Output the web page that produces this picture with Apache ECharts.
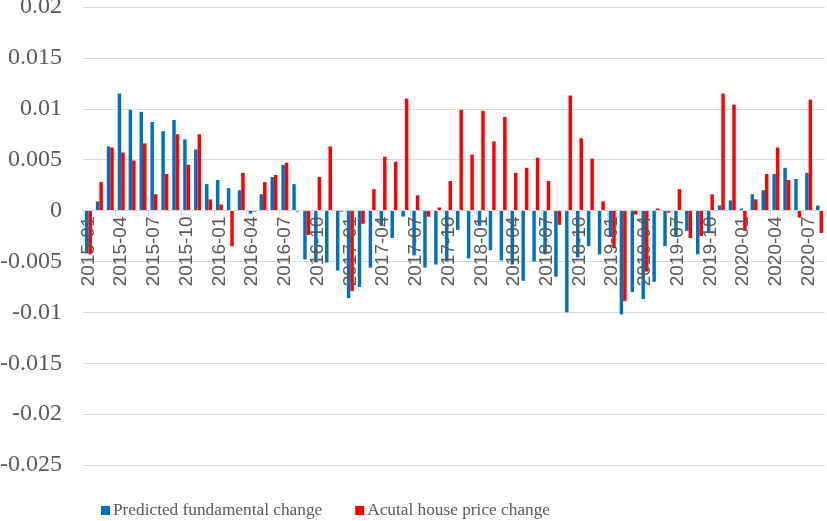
<!DOCTYPE html>
<html>
<head>
<meta charset="utf-8">
<script src="https://cdn.jsdelivr.net/npm/echarts@6/dist/echarts.min.js"></script>
<style>
html,body{margin:0;padding:0;background:#fff;}
#chart{width:827px;height:521px;}
</style>
</head>
<body>
<div id="chart"></div>
<script>
const months = [
 '2015-01','2015-02','2015-03','2015-04','2015-05','2015-06','2015-07','2015-08','2015-09','2015-10','2015-11','2015-12',
 '2016-01','2016-02','2016-03','2016-04','2016-05','2016-06','2016-07','2016-08','2016-09','2016-10','2016-11','2016-12',
 '2017-01','2017-02','2017-03','2017-04','2017-05','2017-06','2017-07','2017-08','2017-09','2017-10','2017-11','2017-12',
 '2018-01','2018-02','2018-03','2018-04','2018-05','2018-06','2018-07','2018-08','2018-09','2018-10','2018-11','2018-12',
 '2019-01','2019-02','2019-03','2019-04','2019-05','2019-06','2019-07','2019-08','2019-09','2019-10','2019-11','2019-12',
 '2020-01','2020-02','2020-03','2020-04','2020-05','2020-06','2020-07','2020-08'
];
const predicted = [
 -0.0042, 0.0009, 0.0063, 0.0115, 0.0099, 0.0097, 0.0087, 0.0078, 0.0089, 0.0070, 0.0060, 0.0026,
 0.0030, 0.0022, 0.0020, -0.0003, 0.0016, 0.0033, 0.0045, 0.0026, -0.0048, -0.0051, -0.0051, -0.0059,
 -0.0086, -0.0075, -0.0056, -0.0015, -0.0027, -0.0006, -0.0044, -0.0056, -0.0053, -0.0050, -0.0019, -0.0047,
 -0.0015, -0.0039, -0.0049, -0.0053, -0.0069, -0.0050, -0.0043, -0.0065, -0.0100, -0.0046, -0.0035, -0.0043,
 -0.0025, -0.0102, -0.0080, -0.0087, -0.0070, -0.0035, -0.0025, -0.0020, -0.0043, -0.0022, 0.0005, 0.0010,
 0.0002, 0.0016, 0.0020, 0.0036, 0.0042, 0.0031, 0.0037, 0.0005
];
const actual = [
 -0.0043, 0.0028, 0.0062, 0.0057, 0.0049, 0.0066, 0.0016, 0.0036, 0.0075, 0.0045, 0.0075, 0.0011,
 0.0006, -0.0035, 0.0037, -0.0001, 0.0028, 0.0035, 0.0047, -0.0001, -0.0024, 0.0033, 0.0063, -0.0001,
 -0.0079, -0.0013, 0.0021, 0.0053, 0.0048, 0.0110, 0.0015, -0.0006, 0.0003, 0.0029, 0.0099, 0.0055,
 0.0098, 0.0068, 0.0092, 0.0037, 0.0042, 0.0052, 0.0029, -0.0014, 0.0113, 0.0071, 0.0051, 0.0009,
 -0.0037, -0.0089, -0.0004, -0.0060, 0.0002, -0.0002, 0.0021, -0.0027, -0.0025, 0.0016, 0.0115, 0.0104,
 -0.0020, 0.0011, 0.0036, 0.0062, 0.0030, -0.0007, 0.0109, -0.0022
];
const seriesNames = ['Predicted fundamental change', 'Acutal house price change'];
const yMin = -0.025, yMax = 0.02, yStep = 0.005;

const chart = echarts.init(document.getElementById('chart'), null, {renderer: 'canvas'});
chart.setOption({
  animation: false,
  backgroundColor: '#ffffff',
  grid: {left: 83, right: 2, top: 7, bottom: 56, containLabel: false, outerBoundsMode: 'none'},
  legend: {
    data: seriesNames,
    left: 96, top: 497,
    icon: 'rect', itemWidth: 9, itemHeight: 9, itemGap: 33,
    textStyle: {fontFamily: 'Liberation Serif', fontSize: 17.3, color: '#595959', padding: [0,0,0,-2]}
  },
  xAxis: {
    type: 'category',
    data: months,
    z: 5,
    offset: 0,
    axisLine: {onZero: false, lineStyle: {color: '#D9D9D9', width: 1}},
    axisTick: {show: true, interval: 2, length: 5, alignWithLabel: false, lineStyle: {color: '#D9D9D9'}},
    axisLabel: {interval: 2, rotate: 90, margin: 6, fontFamily: 'Liberation Sans', fontSize: 19, color: '#595959'},
    splitLine: {show: false}
  },
  yAxis: {
    type: 'value',
    min: yMin, max: yMax, interval: yStep,
    axisLine: {show: false},
    axisTick: {show: false},
    axisLabel: {
      margin: 21, fontFamily: 'Liberation Serif', fontSize: 24, color: '#595959',
      formatter: v => String(+v.toFixed(3))
    },
    splitLine: {lineStyle: {color: '#D9D9D9', width: 1}}
  },
  series: [
    {name: seriesNames[0], type: 'bar', data: predicted, itemStyle: {color: '#0070C0'}, barGap: '0%', barCategoryGap: '36%'},
    {name: seriesNames[1], type: 'bar', data: actual, itemStyle: {color: '#FF0000'}, barGap: '0%', barCategoryGap: '36%'}
  ]
});
// move the category axis (line, ticks, labels) onto the value-axis zero line
const zeroY = chart.convertToPixel({yAxisIndex: 0}, 0);
const minY = chart.convertToPixel({yAxisIndex: 0}, yMin);
chart.setOption({xAxis: {offset: -(minY - zeroY)}});
</script>
</body>
</html>
